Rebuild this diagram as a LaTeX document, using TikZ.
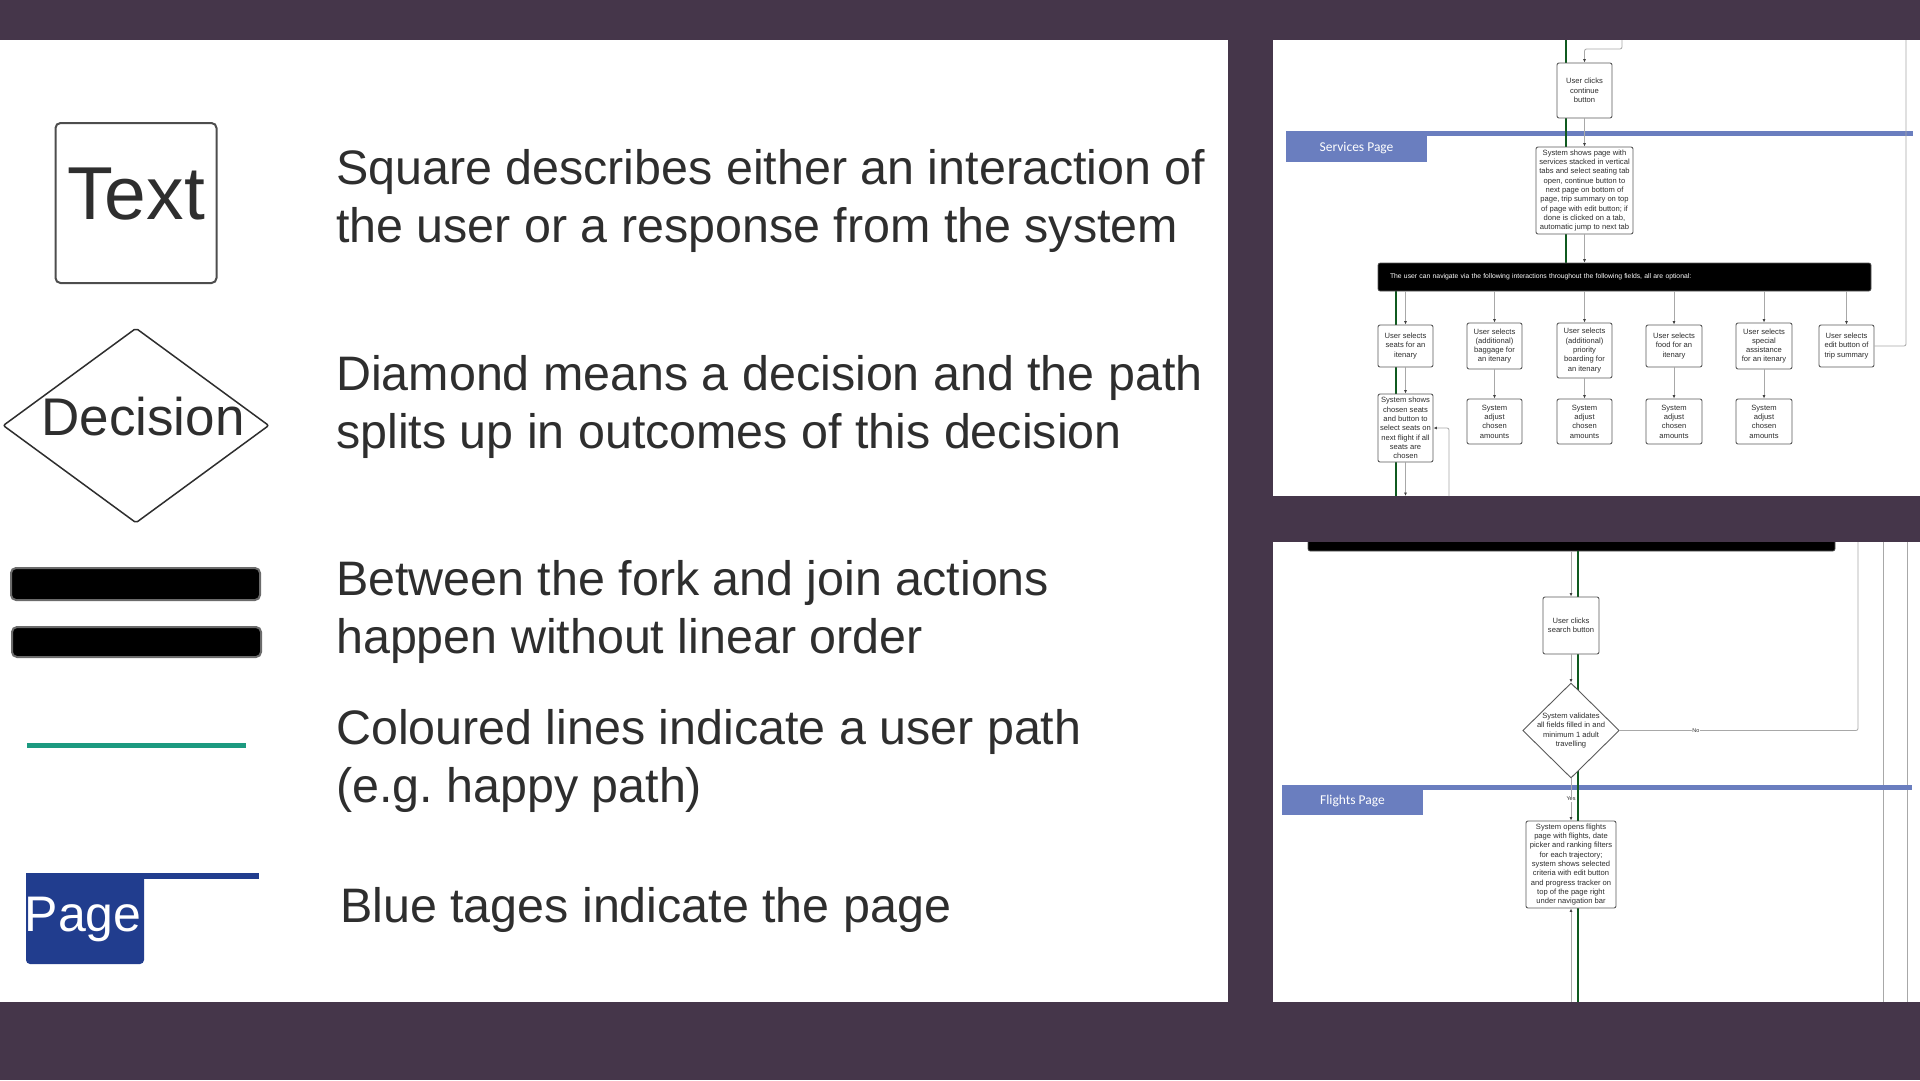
\documentclass[tikz,border=0pt]{standalone}
\usepackage{fontspec}
\setmainfont{Liberation Sans}
\newfontfamily\tagfont{Carlito}
\usetikzlibrary{shapes.geometric,arrows.meta,calc}

\definecolor{slidebg}{HTML}{45364A}
\definecolor{inkgray}{HTML}{2E2E2E}
\definecolor{legendgray}{HTML}{4D4D4D}
\definecolor{bargray}{HTML}{6B6B6B}
\definecolor{boxgray}{HTML}{5A5A5A}
\definecolor{linegray}{HTML}{A8A8A8}
\definecolor{arrowgray}{HTML}{404040}
\definecolor{pathgreen}{HTML}{0F5A1F}
\definecolor{tealpath}{HTML}{1C9A80}
\definecolor{pageblue}{HTML}{213D8E}
\definecolor{laneblue}{HTML}{6A7EBF}

\newcommand{\flowfont}{\fontsize{7.6}{9.3}\selectfont}
\newcommand{\describefont}{\fontsize{48.4}{57.5}\selectfont}

\tikzset{
  legendbox/.style={draw=legendgray, line width=2pt, rounded corners=5pt, fill=white, inner sep=0pt},
  legenddiamond/.style={diamond, draw=inkgray, line width=1.5pt, rounded corners=2pt, fill=white, inner sep=0pt},
  legendword/.style={anchor=base, inner sep=0pt, text=inkgray},
  forkbar/.style={fill=black, draw=bargray, line width=2pt, rounded corners=5pt},
  describe/.style={anchor=base west, inner sep=0pt, align=left, text=inkgray, font=\describefont},
  flowbox/.style={draw=boxgray, fill=white, line width=0.9pt, rounded corners=2pt, align=center, inner sep=1pt, text=inkgray, font=\flowfont},
  flowdiamond/.style={diamond, draw=boxgray, fill=white, line width=0.9pt, inner sep=0pt},
  navbar/.style={fill=black, draw=boxgray, line width=0.6pt, rounded corners=2pt, inner sep=0pt},
  flowline/.style={draw=linegray, line width=0.8pt},
  flowarrow/.style={flowline, -{Latex[length=3.5pt,width=3pt,color=arrowgray]}},
  userpath/.style={draw=pathgreen, line width=2.8pt},
  pagelane/.style={draw=laneblue, line width=5pt},
  pagetag/.style={fill=laneblue, text=white, font=\tagfont\fontsize{13.5}{15}\selectfont, inner sep=0pt, text depth=0pt},
  edgelabel/.style={fill=white, inner sep=0.5pt, text=inkgray, font=\fontsize{5.5}{6}\selectfont}
}

\begin{document}
\frenchspacing
\begin{tikzpicture}[x=1pt,y=-1pt]
  \useasboundingbox (0,0) rectangle (1920,1080);
  \fill[slidebg] (0,0) rectangle (1920,1080);

  % ---------------- Legend panel ----------------
  \fill[white] (0,40) rectangle (1228,1002);

  % Square (base of a two line node = last line)
  \node[legendbox, minimum width=161, minimum height=160] (squareshape) at (136,203) {};
  \node[legendword, font=\fontsize{75}{80}\selectfont] (squareword) at (136,219) {Text};
  \node[describe] (squaretext) at (336,242) {Square describes either an interaction of\\the user or a response from the system};

  % Diamond
  \node[legenddiamond, minimum width=266, minimum height=195] (diamondshape) at (136,425.5) {};
  \node[legendword, font=\fontsize{53}{60}\selectfont] (diamondword) at (143,435) {Decision};
  \node[describe] (diamondtext) at (336,448) {Diamond means a decision and the path\\splits up in outcomes of this decision};

  % Fork and join bars
  \draw[forkbar] (11,568) rectangle (260,600);
  \draw[forkbar] (12,627) rectangle (261,657);
  \node[describe] (forktext) at (336,653) {Between the fork and join actions\\happen without linear order};

  % Coloured user path
  \draw[tealpath, line width=5pt] (27,745) -- (246,745);
  \node[describe] (pathtext) at (336,802) {Coloured lines indicate a user path\\(e.g. happy path)};

  % Page tag
  \draw[pageblue, line width=6pt] (26,876) -- (259,876);
  \node[fill=pageblue, rounded corners=4pt, minimum width=118, minimum height=91, inner sep=0pt] (pageshape) at (85,918.5) {};
  \node[anchor=base west, inner sep=0pt, text=white, font=\fontsize{50}{57}\selectfont] (pageword) at (24.5,931) {Page};
  \node[describe] (pagetext) at (340,922) {Blue tages indicate the page};

  % ---------------- Services page excerpt ----------------
  \fill[white] (1273,40) rectangle (1920,496);

  \draw[pagelane] (1286,133.5) -- (1913,133.5);
  \node[pagetag, minimum width=141, minimum height=31] (servicestag) at (1356.5,146.5) {Services Page};

  % user path behind the boxes
  \draw[userpath] (1566,40) -- (1566,263);
  \draw[userpath] (1396,291) -- (1396,496);

  \node[flowbox, minimum width=55, minimum height=55] (cont) at (1584.5,90.5) {User clicks\\continue\\button};
  \node[flowbox, minimum width=97, minimum height=87] (serv) at (1584.5,190.5) {System shows page with\\services stacked in vertical\\tabs and select seating tab\\open, continue button to\\next page on bottom of\\page, trip summary on top\\of page with edit button; if\\done is clicked on a tab,\\automatic jump to next tab};
  \node[navbar, minimum width=493, minimum height=28, text width=469, inner xsep=12pt, align=left, text=white, font=\fontsize{6.8}{8}\selectfont] (navbar) at (1624.5,277) {The user can navigate via the following interactions throughout the following fields, all are optional:};

  \node[flowbox, minimum width=55, minimum height=42] (seats) at (1405.5,346) {User selects\\seats for an\\itenary};
  \node[flowbox, minimum width=55, minimum height=46] (baggage) at (1494.5,346) {User selects\\(additional)\\baggage for\\an itenary};
  \node[flowbox, minimum width=55, minimum height=55] (boarding) at (1584.5,350.5) {User selects\\(additional)\\priority\\boarding for\\an itenary};
  \node[flowbox, minimum width=56, minimum height=42] (food) at (1674,346) {User selects\\food for an\\itenary};
  \node[flowbox, minimum width=56, minimum height=46] (assist) at (1764,346) {User selects\\special\\assistance\\for an itenary};
  \node[flowbox, minimum width=55, minimum height=42] (editsum) at (1846.5,346) {User selects\\edit button of\\trip summary};

  \node[flowbox, minimum width=55, minimum height=68] (seatsys) at (1405.5,428) {System shows\\chosen seats\\and button to\\select seats on\\next flight if all\\seats are\\chosen};
  \node[flowbox, minimum width=55, minimum height=45] (baggagesys) at (1494.5,421.5) {System\\adjust\\chosen\\amounts};
  \node[flowbox, minimum width=55, minimum height=45] (boardingsys) at (1584.5,421.5) {System\\adjust\\chosen\\amounts};
  \node[flowbox, minimum width=56, minimum height=45] (foodsys) at (1674,421.5) {System\\adjust\\chosen\\amounts};
  \node[flowbox, minimum width=56, minimum height=45] (assistsys) at (1764,421.5) {System\\adjust\\chosen\\amounts};

  % connectors
  \coordinate (feedin) at (1622,40);
  \draw[flowarrow, rounded corners=2pt] (feedin) |- (1584.5,49) -- (cont.north);
  \draw[flowarrow] (cont) -- (serv);
  \draw[flowarrow] (serv.south) -- (serv.south |- navbar.north);
  \draw[flowarrow] (navbar.south -| seats.north) -- (seats.north);
  \draw[flowarrow] (navbar.south -| baggage.north) -- (baggage.north);
  \draw[flowarrow] (navbar.south -| boarding.north) -- (boarding.north);
  \draw[flowarrow] (navbar.south -| food.north) -- (food.north);
  \draw[flowarrow] (navbar.south -| assist.north) -- (assist.north);
  \draw[flowarrow] (navbar.south -| editsum.north) -- (editsum.north);
  \draw[flowarrow] (seats) -- (seatsys);
  \draw[flowarrow] (baggage) -- (baggagesys);
  \draw[flowarrow] (boarding) -- (boardingsys);
  \draw[flowarrow] (food) -- (foodsys);
  \draw[flowarrow] (assist) -- (assistsys);
  \draw[flowline, rounded corners=2pt] (editsum.east) -| (1906,40);
  \coordinate (loopin) at (1449,496);
  \draw[flowarrow, rounded corners=2pt] (loopin) |- (seatsys.east);
  \coordinate (seatsout) at (1405.5,496);
  \draw[flowarrow] (seatsys.south) -- (seatsout);

  % ---------------- Flights page excerpt ----------------
  \fill[white] (1273,542) rectangle (1920,1002);
  \begin{scope}
    \clip (1273,542) rectangle (1920,1002);

    \node[navbar, minimum width=527, minimum height=40] (joinbar) at (1571.5,531) {};

    \draw[flowline] (1883,542) -- (1883,1002);
    \draw[flowline] (1907,542) -- (1907,1002);

    \draw[pagelane] (1282,787) -- (1912,787);
    \node[pagetag, minimum width=141, minimum height=30] (flightstag) at (1352.5,800) {Flights Page};

    \draw[userpath] (1578,551) -- (1578,1002);

    \node[flowbox, minimum width=56, minimum height=57] (search) at (1571,625.5) {User clicks\\search button};
    \node[flowdiamond, minimum width=96.5, minimum height=95,
      label={[align=center, font=\flowfont, text=inkgray]center:{System validates\\all fields filled in and\\minimum 1 adult\\travelling}}] (valid) at (1571,730.5) {};
    \node[flowbox, minimum width=90, minimum height=87] (flights) at (1571,864.5) {System opens flights\\page with flights, date\\picker and ranking filters\\for each trajectory;\\system shows selected\\criteria with edit button\\and progress tracker on\\top of the page right\\under navigation bar};

    \draw[flowarrow] (joinbar.south -| search.north) -- (search.north);
    \draw[flowarrow] (search) -- (valid);
    \draw[flowarrow] (valid.south) -- node[edgelabel, pos=0.49] {Yes} (flights.north);
    \draw[flowline, rounded corners=2pt] (valid.east) -| node[edgelabel, pos=0.16] {No} (1858,542);
    \coordinate (flightsin) at (1571,1002);
    \draw[flowarrow] (flightsin) -- (flights.south);
  \end{scope}
\end{tikzpicture}
\end{document}
